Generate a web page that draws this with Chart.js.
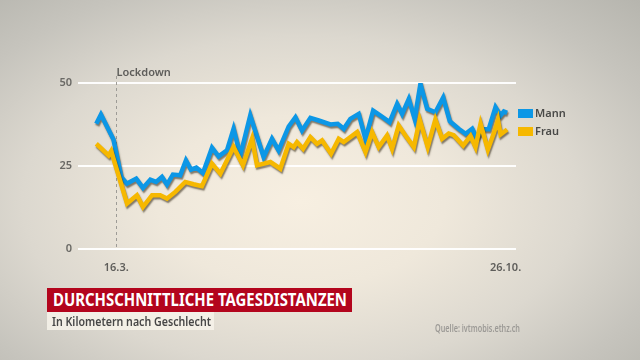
<!DOCTYPE html>
<html><head><meta charset="utf-8">
<script src="https://cdn.jsdelivr.net/npm/chart.js@4.4.1/dist/chart.umd.min.js"></script>
<style>
html,body{margin:0;padding:0;}
#wrap{position:relative;width:640px;height:360px;overflow:hidden;
background:radial-gradient(ellipse farthest-corner at 47% 56%, #f7efe1 0%, #efe8db 30%, #dcd8cf 58%, #c6c4bd 80%, #b6b5ae 100%);
font-family:"Noto Sans",sans-serif;}
canvas{position:absolute;left:0;top:0;}
.fit{position:absolute;white-space:nowrap;}
.fit span{display:inline-block;transform-origin:0 50%;}
#title{left:47px;top:288px;width:305px;height:24px;background:#b3051d;}
#title span{position:absolute;left:6px;top:0;line-height:24px;color:#fff;font-weight:700;font-size:17px;}
#sub{left:47px;top:312px;width:167px;height:18px;background:rgba(247,243,234,0.85);}
#sub span{position:absolute;left:5px;top:0;line-height:18px;color:#474747;font-weight:600;font-size:13px;}
#src{left:435px;top:315px;height:14px;}
#src span{line-height:14px;color:#9c9a96;font-size:10px;font-weight:600;}
</style></head>
<body>
<div id="wrap">
<canvas id="c" width="640" height="360"></canvas>
<div class="fit" id="title"><span data-w="294">DURCHSCHNITTLICHE TAGESDISTANZEN</span></div>
<div class="fit" id="sub"><span data-w="159">In Kilometern nach Geschlecht</span></div>
<div class="fit" id="src"><span data-w="85">Quelle: ivtmobis.ethz.ch</span></div>
</div>
<script>
// Days relative to 16.3. (day 0)
const mannDays = [-11.5,-8.8,-5.4,-1.6,2.9,6.2,11.5,15.4,19.6,22.9,26.3,29.2,32.6,36.8,40.1,43,46.1,49.9,55.1,58.9,63.7,67.5,71.4,77.1,84.8,89.6,93.4,99.2,103.1,106.9,111.7,116.5,123.2,127.4,130.9,134.7,139.5,143.4,147.8,152,157.3,161.6,164.5,168.3,171.7,175,178.9,183.6,188.1,191.9,197,201,204.8,207.3,211.1,214.3,218.2,221.1,223,224.9];
const mannKm   = [37.7,40.5,37,33,21.7,19.7,21.2,18.4,20.9,20.2,21.7,19.4,22.4,22.2,26.7,23.9,24.5,22.9,30.5,27.9,29.7,36.2,28.2,40.2,27.7,33.2,29.7,36.9,39.7,35.7,39.5,38.7,37.5,37.7,36.2,39.2,40.7,33.2,41.7,40.2,38.2,43.7,40.7,45.2,39.2,49.7,42.2,41.2,45.6,38.5,36.2,34.7,36.2,33.5,36.1,36.1,42.7,40.2,41.4,41];
const frauDays = [-11.5,-4.4,-2.9,6.2,11.9,15.4,20.6,25.3,29.2,34,39.7,44.5,49.3,55.1,59.9,67.5,72.9,78.1,81,88.7,94.4,99.2,102.1,104,107.5,111.7,115.5,118.4,123.6,128,130.9,138.6,143.4,147.2,151,155.8,158.7,162.5,166.4,171.2,174.6,179.2,183.6,187.5,191.3,194.2,199.6,203.8,206.7,209.6,213.8,217.3,219.6,221.1,224.9];
const frauKm   = [31.7,28.2,29.5,13.7,16.2,12.7,16.2,16.2,15.2,17.2,20.2,19.5,18.9,25.7,22.7,30.7,25.2,33.2,25.2,26.2,24.2,31.7,30.7,32.2,30.2,33.7,31.7,32.7,28.7,33.2,32.2,35.2,29.2,35.2,30.7,34.2,30.2,37.2,34.2,30.7,38.9,30.7,39,33.2,34.8,34.3,31.2,34,30.7,37.7,29.9,35,38.9,34.5,36];
const seriesNames = ["Mann","Frau"];
const seriesColors = ["#0c97e6","#f6b800"];
const xTickDays = [0,224];
const xTickLabels = ["16.3.","26.10."];
const yTicks = [0,25,50];
const eventDay = 0, eventLabel = "Lockdown";

const pts = (d,v)=>d.map((x,i)=>({x:x,y:v[i]}));

const shadowPlugin = {
  id:'shadow',
  beforeDatasetDraw(chart){const c=chart.ctx;c.save();c.shadowColor='rgba(40,30,10,0.55)';c.shadowOffsetX=1;c.shadowOffsetY=2;c.shadowBlur=1.5;},
  afterDatasetDraw(chart){chart.ctx.restore();}
};
const eventPlugin = {
  id:'event',
  beforeDatasetsDraw(chart){
    const c=chart.ctx, x=Math.round(chart.scales.x.getPixelForValue(eventDay))+0.5;
    c.save();c.strokeStyle='#9d9b96';c.lineWidth=1;c.setLineDash([3,3]);
    c.beginPath();c.moveTo(x,76);c.lineTo(x,chart.chartArea.bottom);c.stroke();
    c.setLineDash([]);c.fillStyle='#5e5d5a';c.font='600 11px "Noto Sans"';c.textBaseline='alphabetic';c.textAlign='left';
    c.fillText(eventLabel,x,76);c.restore();
  }
};
const legendPlugin = {
  id:'legendCustom',
  afterDraw(chart){
    const c=chart.ctx;c.save();
    c.font='600 11px "Noto Sans"';c.textBaseline='middle';c.textAlign='left';
    chart.data.datasets.forEach((ds,i)=>{
      const y=109+i*18;
      c.fillStyle=ds.borderColor;c.fillRect(518,y,15,9);
      c.fillStyle='#4a4a48';c.fillText(ds.label,535,y+5);
    });
    c.restore();
  }
};

new Chart(document.getElementById('c'),{
  type:'line',
  data:{datasets:[
    {label:seriesNames[0],data:pts(mannDays,mannKm),borderColor:seriesColors[0],backgroundColor:seriesColors[0],borderWidth:4.5,pointRadius:0,tension:0,order:2,borderJoinStyle:'miter'},
    {label:seriesNames[1],data:pts(frauDays,frauKm),borderColor:seriesColors[1],backgroundColor:seriesColors[1],borderWidth:4.5,pointRadius:0,tension:0,order:1,borderJoinStyle:'miter'}
  ]},
  options:{
    responsive:false,animation:false,
    layout:{padding:{left:48,top:83,right:124,bottom:71}},
    plugins:{legend:{display:false},tooltip:{enabled:false}},
    scales:{
      x:{type:'linear',min:-22,max:230,
        afterBuildTicks(s){s.ticks=xTickDays.map(v=>({value:v}));},
        afterFit(s){s.height=40;},
        grid:{display:false},border:{display:false},
        ticks:{padding:4,maxRotation:0,autoSkip:false,color:'#5e5d5a',font:{family:'"Noto Sans"',size:11,weight:'600'},
          callback:(v)=>{const i=xTickDays.indexOf(v);return i>=0?xTickLabels[i]:'';}}},
      y:{min:0,max:50,
        afterBuildTicks(s){s.ticks=yTicks.map(v=>({value:v}));},
        afterFit(s){s.width=30;},
        grid:{color:'rgba(255,255,255,0.95)',lineWidth:2,drawTicks:false},border:{display:false},
        ticks:{padding:6,color:'#6a6965',font:{family:'"Noto Sans"',size:11,weight:'600'}}}
    }
  },
  plugins:[shadowPlugin,eventPlugin,legendPlugin]
});

document.querySelectorAll('.fit span').forEach(s=>{
  const w=s.getBoundingClientRect().width, t=+s.dataset.w;
  if(w>0) s.style.transform='scaleX('+(t/w)+')';
});
</script>
</body></html>
